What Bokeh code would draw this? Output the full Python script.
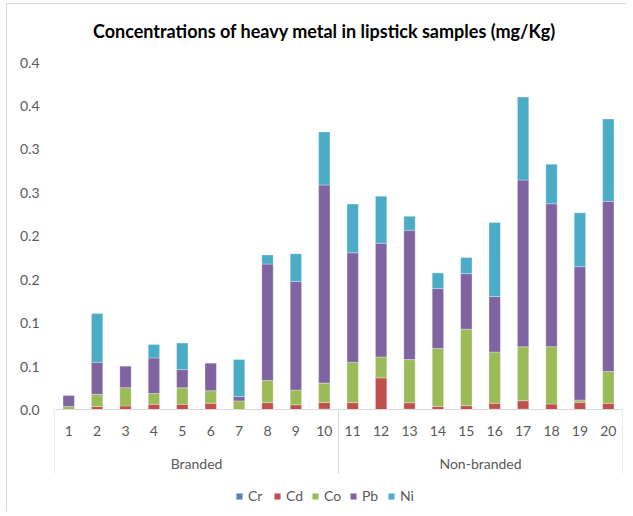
from bokeh.plotting import figure
from bokeh.models import FactorRange, Range1d, FixedTicker, ColumnDataSource, Legend, LegendItem, Label
from bokeh.embed import file_html
from bokeh.resources import INLINE
from bokeh.core.properties import value

title_text = "Concentrations of heavy metal in lipstick samples (mg/Kg)"
samples = [str(i) for i in range(1, 21)]
groups = ["Branded", "Non-branded"]
group_sizes = [10, 10]
metals = ["Cr", "Cd", "Co", "Pb", "Ni"]
colors = ["#4F81BD", "#C0504D", "#9BBB59", "#8064A2", "#4BACC6"]

cr = [0, 0, 0, 0, 0, 0, 0, 0, 0, 0.001,
      0, 0, 0.001, 0, 0, 0.001, 0.001, 0, 0, 0]
cd = [0.0005, 0.004, 0.0047, 0.0065, 0.0065, 0.0077, 0, 0.0084, 0.006, 0.0076,
      0.0084, 0.037, 0.0074, 0.004, 0.005, 0.0067, 0.0097, 0.0069, 0.0088, 0.0077]
co = [0.0035, 0.014, 0.021, 0.0125, 0.019, 0.0145, 0.0105, 0.0256, 0.017, 0.0224,
      0.0466, 0.024, 0.0496, 0.0668, 0.088, 0.059, 0.062, 0.066, 0.0027, 0.0367]
pb = [0.013, 0.037, 0.025, 0.041, 0.021, 0.032, 0.005, 0.134, 0.125, 0.228,
      0.126, 0.131, 0.149, 0.069, 0.064, 0.064, 0.192, 0.1645, 0.1535, 0.1956]
ni = [0, 0.056, 0, 0.0155, 0.0305, 0, 0.0425, 0.0105, 0.0318, 0.061,
      0.056, 0.054, 0.016, 0.018, 0.0185, 0.085, 0.0955, 0.0455, 0.062, 0.095]

y_ticks = [0, 0.05, 0.10, 0.15, 0.20, 0.25, 0.30, 0.35, 0.40]
y_tick_labels = ["0.0", "0.1", "0.1", "0.2", "0.2", "0.3", "0.3", "0.4", "0.4"]

FONT = "Lato"
TXT = "#595959"
GRID = "#D9D9D9"

source = ColumnDataSource(dict(sample=samples, Cr=cr, Cd=cd, Co=co, Pb=pb, Ni=ni))

# frame covers the whole chart area (plot area plus title, category and legend bands)
p = figure(x_range=FactorRange(factors=samples, range_padding=0),
           y_range=Range1d(-0.118, 0.4668),
           width=620, height=508, output_backend="svg", toolbar_location=None,
           min_border_left=47, min_border_right=5, min_border_top=0, min_border_bottom=0)
p.styles = {"border-left": "1px solid #D9D9D9", "border-top": "1px solid #D9D9D9",
            "margin-left": "6px", "margin-top": "3px"}

rs = p.vbar_stack(metals, x="sample", width=0.4, color=colors, source=source,
                  line_color="white", line_width=0.5, line_alpha=0.6)

title = Label(x=270, y=482, x_units="screen", y_units="screen", text=title_text,
              text_align="center", text_baseline="middle", text_font=FONT,
              text_font_size="18px", text_font_style="bold", text_color="black")
p.add_layout(title)

p.xgrid.visible = False
p.ygrid.visible = False
p.outline_line_color = None

xa = p.xaxis[0]
xa.fixed_location = 0
xa.axis_line_color = GRID
xa.major_tick_line_color = None
xa.minor_tick_line_color = None
xa.major_tick_out = 0
xa.major_label_standoff = 16
xa.major_label_text_font = FONT
xa.major_label_text_font_size = "14px"
xa.major_label_text_color = TXT

ya = p.yaxis[0]
ya.ticker = FixedTicker(ticks=y_ticks)
ya.major_label_overrides = {t: l for t, l in zip(y_ticks, y_tick_labels)}
ya.axis_line_color = None
ya.major_tick_line_color = None
ya.minor_tick_line_color = None
ya.major_tick_out = 0
ya.major_label_standoff = 15
ya.major_label_text_font = FONT
ya.major_label_text_font_size = "14px"
ya.major_label_text_color = TXT

# group labels and separators
bounds = [0]
for s in group_sizes:
    bounds.append(bounds[-1] + s)
centers = [(bounds[i] + bounds[i + 1]) / 2 for i in range(len(group_sizes))]
p.text(x=centers, y=[-0.062] * len(groups), text=groups, text_align="center",
       text_baseline="middle", text_font=value(FONT), text_font_size="14px", text_color=TXT)
p.segment(x0=bounds, y0=[0] * len(bounds), x1=bounds, y1=[-0.073] * len(bounds),
          line_color=GRID, line_width=1)

legend = Legend(items=[LegendItem(label=m, renderers=[r]) for m, r in zip(metals, rs)],
                orientation="horizontal", location=(181, 8))
legend.border_line_color = None
legend.background_fill_alpha = 0
legend.padding = 0
legend.margin = 0
legend.spacing = 5
legend.glyph_width = 8
legend.glyph_height = 8
legend.label_standoff = 5
legend.label_text_font = FONT
legend.label_text_font_size = "14px"
legend.label_text_color = TXT
p.add_layout(legend)

open("out.html", "w").write(file_html(p, INLINE))
